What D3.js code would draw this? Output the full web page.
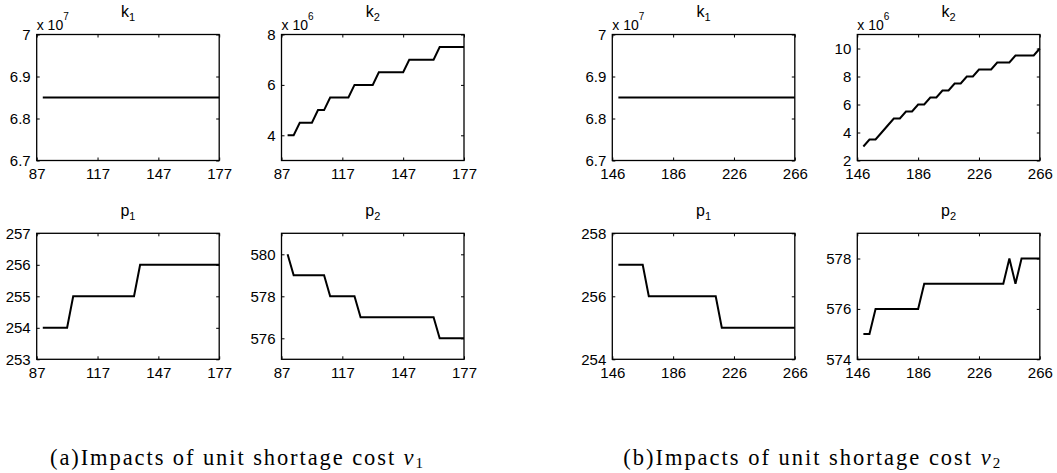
<!DOCTYPE html>
<html>
<head>
<meta charset='UTF-8'>
<title>Impacts of unit shortage cost</title>
<script src='https://d3js.org/d3.v7.min.js'></script>
<style>
  body { margin: 0; background: #fff; }
  svg text { fill: #000; }
</style>
</head>
<body>
<div id='graph'></div>
<script>
// x values (unit shortage cost) for the two experiments
var vA = [90, 93, 96, 99, 102, 105, 108, 111, 114, 117, 120, 123, 126, 129, 132,
          135, 138, 141, 144, 147, 150, 153, 156, 159, 162, 165, 168, 171, 174, 177];
var vB = [150, 154, 158, 162, 166, 170, 174, 178, 182, 186, 190, 194, 198, 202, 206,
          210, 214, 218, 222, 226, 230, 234, 238, 242, 246, 250, 254, 258, 262, 266];

var xTicksA = [87, 117, 147, 177];
var xTicksB = [146, 186, 226, 266];

// (a) impacts of v1
var k1A = [6.85e7, 6.85e7, 6.85e7, 6.85e7, 6.85e7, 6.85e7, 6.85e7, 6.85e7, 6.85e7, 6.85e7,
           6.85e7, 6.85e7, 6.85e7, 6.85e7, 6.85e7, 6.85e7, 6.85e7, 6.85e7, 6.85e7, 6.85e7,
           6.85e7, 6.85e7, 6.85e7, 6.85e7, 6.85e7, 6.85e7, 6.85e7, 6.85e7, 6.85e7, 6.85e7];
var k2A = [4e6, 4e6, 4.5e6, 4.5e6, 4.5e6, 5e6, 5e6, 5.5e6, 5.5e6, 5.5e6,
           5.5e6, 6e6, 6e6, 6e6, 6e6, 6.5e6, 6.5e6, 6.5e6, 6.5e6, 6.5e6,
           7e6, 7e6, 7e6, 7e6, 7e6, 7.5e6, 7.5e6, 7.5e6, 7.5e6, 7.5e6];
var p1A = [254, 254, 254, 254, 254, 255, 255, 255, 255, 255,
           255, 255, 255, 255, 255, 255, 256, 256, 256, 256,
           256, 256, 256, 256, 256, 256, 256, 256, 256, 256];
var p2A = [580, 579, 579, 579, 579, 579, 579, 578, 578, 578,
           578, 578, 577, 577, 577, 577, 577, 577, 577, 577,
           577, 577, 577, 577, 577, 576, 576, 576, 576, 576];

// (b) impacts of v2
var k1B = [6.85e7, 6.85e7, 6.85e7, 6.85e7, 6.85e7, 6.85e7, 6.85e7, 6.85e7, 6.85e7, 6.85e7,
           6.85e7, 6.85e7, 6.85e7, 6.85e7, 6.85e7, 6.85e7, 6.85e7, 6.85e7, 6.85e7, 6.85e7,
           6.85e7, 6.85e7, 6.85e7, 6.85e7, 6.85e7, 6.85e7, 6.85e7, 6.85e7, 6.85e7, 6.85e7];
var k2B = [3e6, 3.5e6, 3.5e6, 4e6, 4.5e6, 5e6, 5e6, 5.5e6, 5.5e6, 6e6,
           6e6, 6.5e6, 6.5e6, 7e6, 7e6, 7.5e6, 7.5e6, 8e6, 8e6, 8.5e6,
           8.5e6, 8.5e6, 9e6, 9e6, 9e6, 9.5e6, 9.5e6, 9.5e6, 9.5e6, 10e6];
var p1B = [257, 257, 257, 257, 257, 256, 256, 256, 256, 256,
           256, 256, 256, 256, 256, 256, 256, 255, 255, 255,
           255, 255, 255, 255, 255, 255, 255, 255, 255, 255];
var p2B = [575, 575, 576, 576, 576, 576, 576, 576, 576, 576,
           577, 577, 577, 577, 577, 577, 577, 577, 577, 577,
           577, 577, 577, 577, 578, 577, 578, 578, 578, 578];

var colLeft = [36.7, 281.5, 612.3, 857.3];
var rowTop = [34.5, 233.3];
var pw = 182.5;
var ph = 126;
var sans = "'Liberation Sans', Arial, Helvetica, sans-serif";

var panels = [
    {col: 0, row: 0, x: vA, y: k1A, xDom: [87, 177], xTicks: xTicksA, yDom: [6.7e7, 7e7], yTicks: [6.7e7, 6.8e7, 6.9e7, 7e7], exp: 7, name: 'k', sub: '1'},
    {col: 1, row: 0, x: vA, y: k2A, xDom: [87, 177], xTicks: xTicksA, yDom: [3e6, 8e6], yTicks: [4e6, 6e6, 8e6], exp: 6, name: 'k', sub: '2'},
    {col: 0, row: 1, x: vA, y: p1A, xDom: [87, 177], xTicks: xTicksA, yDom: [253, 257], yTicks: [253, 254, 255, 256, 257], name: 'p', sub: '1'},
    {col: 1, row: 1, x: vA, y: p2A, xDom: [87, 177], xTicks: xTicksA, yDom: [575, 581], yTicks: [576, 578, 580], name: 'p', sub: '2'},
    {col: 2, row: 0, x: vB, y: k1B, xDom: [146, 266], xTicks: xTicksB, yDom: [6.7e7, 7e7], yTicks: [6.7e7, 6.8e7, 6.9e7, 7e7], exp: 7, name: 'k', sub: '1'},
    {col: 3, row: 0, x: vB, y: k2B, xDom: [146, 266], xTicks: xTicksB, yDom: [2e6, 11e6], yTicks: [2e6, 4e6, 6e6, 8e6, 10e6], exp: 6, name: 'k', sub: '2'},
    {col: 2, row: 1, x: vB, y: p1B, xDom: [146, 266], xTicks: xTicksB, yDom: [254, 258], yTicks: [254, 256, 258], name: 'p', sub: '1'},
    {col: 3, row: 1, x: vB, y: p2B, xDom: [146, 266], xTicks: xTicksB, yDom: [574, 579], yTicks: [574, 576, 578], name: 'p', sub: '2'}
];

var svg = d3.select('#graph')
    .append('svg')
    .attr('width', 1057)
    .attr('height', 473);

function styleAxis(sel) {
    sel.attr('font-size', 15).attr('font-family', sans);
    sel.select('.domain').remove();
    sel.selectAll('.tick line').attr('stroke', '#000');
}

panels.forEach(function(p) {
    var g = svg.append('g')
        .attr('transform', 'translate(' + colLeft[p.col] + ',' + rowTop[p.row] + ')');

    var xScale = d3.scaleLinear().domain(p.xDom).range([0, pw]);
    var yScale = d3.scaleLinear().domain(p.yDom).range([ph, 0]);
    var fmt = p.exp ? function(d) { return +(d / Math.pow(10, p.exp)).toFixed(1); } : function(d) { return d; };

    g.append('g')
        .attr('transform', 'translate(0,' + ph + ')')
        .call(d3.axisBottom(xScale).tickValues(p.xTicks).tickSizeInner(-3).tickSizeOuter(0).tickPadding(8))
        .call(styleAxis);
    g.append('g')
        .call(d3.axisLeft(yScale).tickValues(p.yTicks).tickFormat(fmt).tickSizeInner(-3).tickSizeOuter(0).tickPadding(6))
        .call(styleAxis);
    g.append('g')
        .call(d3.axisTop(xScale).tickValues(p.xTicks).tickFormat('').tickSizeInner(-3).tickSizeOuter(0))
        .call(styleAxis);
    g.append('g')
        .attr('transform', 'translate(' + pw + ',0)')
        .call(d3.axisRight(yScale).tickValues(p.yTicks).tickFormat('').tickSizeInner(-3).tickSizeOuter(0))
        .call(styleAxis);

    g.append('rect')
        .attr('width', pw)
        .attr('height', ph)
        .attr('fill', 'none')
        .attr('stroke', '#000')
        .attr('stroke-width', 1.3);

    var line = d3.line()
        .x(function(d, i) { return xScale(p.x[i]); })
        .y(function(d) { return yScale(d); });

    g.append('path')
        .datum(p.y)
        .attr('d', line)
        .attr('fill', 'none')
        .attr('stroke', '#000')
        .attr('stroke-width', 2);

    // title with subscript
    var t = g.append('text')
        .attr('x', pw / 2)
        .attr('y', -17.5)
        .attr('text-anchor', 'middle')
        .attr('font-family', sans)
        .attr('font-size', 16);
    t.append('tspan').text(p.name);
    t.append('tspan').attr('font-size', 11).attr('dy', 4).text(p.sub);

    // exponent label
    if (p.exp) {
        var e = g.append('text')
            .attr('x', 0)
            .attr('y', -4.5)
            .attr('font-family', sans)
            .attr('font-size', 14);
        e.append('tspan').text('x 10');
        e.append('tspan').attr('font-size', 10).attr('dy', -10).text(p.exp);
    }
});

// captions
var captions = [
    {x: 236.5, w: 373, label: '(a)Impacts of unit shortage cost ', sub: '1'},
    {x: 811.7, w: 377, label: '(b)Impacts of unit shortage cost ', sub: '2'}
];

captions.forEach(function(c) {
    var t = svg.append('text')
        .attr('x', c.x)
        .attr('y', 465)
        .attr('text-anchor', 'middle')
        .attr('font-family', "'Liberation Serif', 'DejaVu Serif', serif")
        .attr('font-size', 22.5)
        .attr('textLength', c.w)
        .attr('lengthAdjust', 'spacing');
    t.append('tspan').text(c.label);
    t.append('tspan').attr('font-style', 'italic').text('v');
    t.append('tspan').attr('font-size', 15).attr('dy', 3).text(c.sub);
});
</script>
</body>
</html>
